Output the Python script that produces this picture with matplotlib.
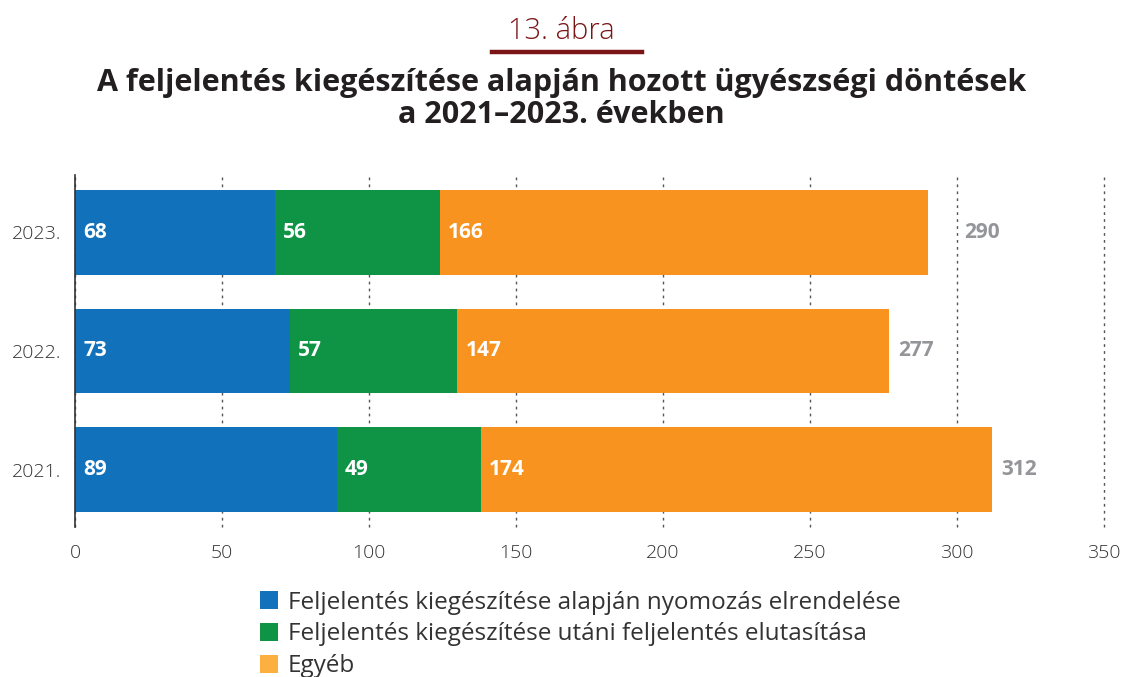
import matplotlib.pyplot as plt
from matplotlib.patches import Patch
from matplotlib.lines import Line2D

# data
years = ["2021.", "2022.", "2023."]
nyomozas = [89, 73, 68]
elutasitas = [49, 57, 56]
egyeb = [174, 147, 166]
osszes = [312, 277, 290]

series_names = [
    "Feljelentés kiegészítése alapján nyomozás elrendelése",
    "Feljelentés kiegészítése utáni feljelentés elutasítása",
    "Egyéb",
]
colors = ["#1172BB", "#0F9446", "#F7931E"]
legend_colors = ["#1172BB", "#0F9446", "#FBB040"]
total_pad = [3, 3, 12.5]   # the 2023 total sits further from its bar in the original

plt.rcParams["font.family"] = ["Open Sans", "DejaVu Sans"]

fig = plt.figure(figsize=(11.23, 6.77), dpi=100)
ax = fig.add_axes([0.0668, 0.2216, 0.9162, 0.5199])

pos = list(range(len(years)))
h = 0.714
left = [0] * len(years)
for vals, col in zip([nyomozas, elutasitas, egyeb], colors):
    ax.barh(pos, vals, left=left, height=h, color=col, zorder=2)
    for p, v, l in zip(pos, vals, left):
        ax.text(l + 2.8, p, str(v), ha="left", va="center", color="white",
                fontsize=15, fontweight="bold", zorder=3)
    left = [a + b for a, b in zip(left, vals)]

for p, tot, pad in zip(pos, osszes, total_pad):
    ax.text(tot + pad, p, str(tot), ha="left", va="center", color="#939598",
            fontsize=15, fontweight="bold")

ax.set_xlim(0, 350)
ax.set_ylim(-0.48, 2.48)
ax.set_xticks(range(0, 351, 50))
ax.set_yticks(pos)
ax.set_yticklabels(years)
ax.tick_params(axis="both", length=0, labelsize=14, labelcolor="#333333")
ax.tick_params(axis="x", pad=12)
ax.tick_params(axis="y", pad=10)
for lab in ax.get_xticklabels() + ax.get_yticklabels():
    lab.set_fontweight("light")

ax.xaxis.grid(True, linestyle=(0, (2, 3)), color="#555555", linewidth=1, zorder=0)
for gl in ax.get_xgridlines():
    gl.set_clip_on(False)
for s in ["top", "right", "bottom"]:
    ax.spines[s].set_visible(False)
ax.spines["left"].set_color("#333333")
ax.spines["left"].set_linewidth(1.2)

# header
fig.text(0.5, 1 - 31 / 677, "13. ábra", ha="center", va="center",
         color="#7B1416", fontsize=21, fontweight="light")
fig.add_artist(Line2D([492 / 1123, 642 / 1123], [1 - 52 / 677, 1 - 52 / 677],
                      color="#7B1416", linewidth=3.2))
fig.text(0.5, 1 - 99 / 677,
         "A feljelentés kiegészítése alapján hozott ügyészségi döntések\na 2021–2023. években",
         ha="center", va="center", color="#231F20", fontsize=22,
         fontweight="bold", linespacing=1.05)

handles = [Patch(facecolor=c, edgecolor="none") for c in legend_colors]
fig.legend(handles, series_names, loc="upper left",
           bbox_to_anchor=(250 / 1123, 1 - 581 / 677), frameon=False,
           fontsize=17.5, handlelength=0.75, handleheight=0.75, handletextpad=0.4,
           labelspacing=0.32, labelcolor="#333333", borderaxespad=0)

fig.savefig("out.png", dpi=100)
